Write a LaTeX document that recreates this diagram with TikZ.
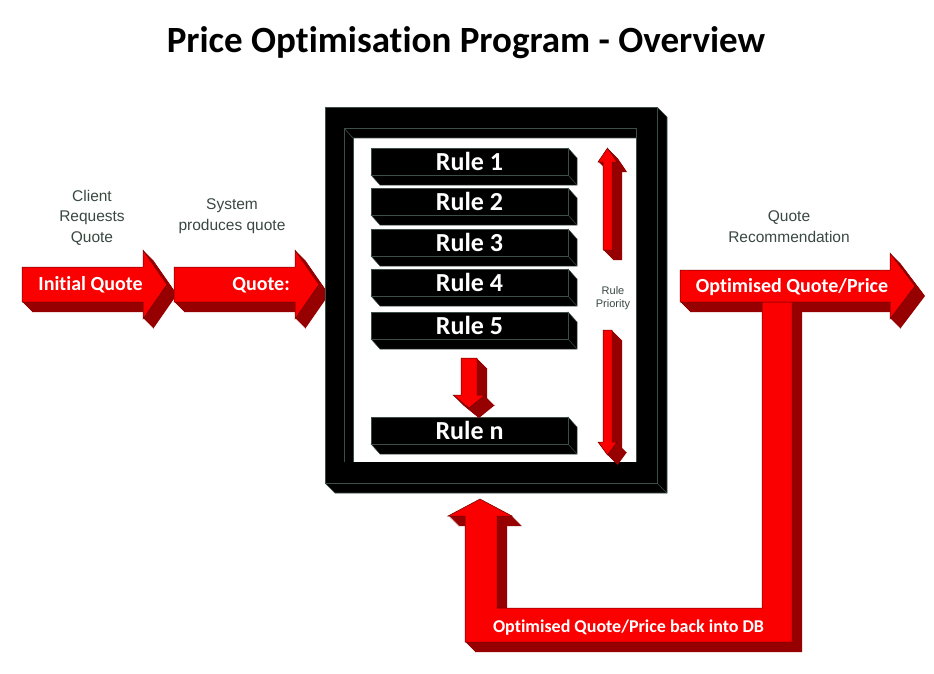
\documentclass[tikz,border=0pt]{standalone}
\usepackage{fontspec}
\setmainfont{Liberation Sans}
\newfontfamily\calib[Ligatures=NoCommon]{Carlito}
\definecolor{rfront}{RGB}{250,0,0}
\definecolor{rside}{RGB}{150,0,0}
\definecolor{redge}{RGB}{105,0,0}
\definecolor{gedge}{RGB}{60,78,70}
\definecolor{lblc}{RGB}{58,72,66}
\newcommand{\redblock}[1]{%
  \foreach \k in {10,9,...,1}{\fill[rside,shift={(\k,\k)}] #1;}
  \fill[rfront,draw=redge,line width=0.5pt] #1;}
\begin{document}
\begin{tikzpicture}[x=1pt,y=-1pt,
  lbl/.style={font=\fontsize{15.5}{20.5}\selectfont, text=lblc, align=center, inner sep=0pt},
  wlbl/.style={text=white, inner sep=0pt, anchor=base},
  rulebox/.style={fill=black, draw=gedge, line width=0.5pt, minimum width=197pt,
    minimum height=27pt, inner sep=0pt, text=white,
    font=\calib\bfseries\fontsize{26}{26}\selectfont}]
\fill[white] (0,0) rectangle (934,673);
\useasboundingbox (0,0) rectangle (934,673);

% title
\node[font=\calib\bfseries\fontsize{37}{37}\selectfont, anchor=base, inner sep=0pt] (title) at (466,52) {Price Optimisation Program - Overview};

% grey labels
\node[lbl, anchor=base] (client) at (92,242) {Client\\Requests\\Quote};
\node[lbl, anchor=base] (system) at (232,230) {System\\produces quote};
\node[lbl, anchor=base] (recom) at (789,242) {Quote\\Recommendation};

% input arrows
\redblock{(22,267)--(143,267)--(143,250)--(167,284.5)--(143,319)--(143,302)--(22,302)--cycle}
\node[wlbl, font=\calib\bfseries\fontsize{20}{20}\selectfont] (init) at (90.5,290) {Initial Quote};
\redblock{(174,267)--(295,267)--(295,250)--(319,284.5)--(295,319)--(295,302)--(174,302)--cycle}
\node[wlbl, anchor=base east, font=\calib\bfseries\fontsize{20}{20}\selectfont] (quote) at (290,290) {Quote:};

% black frame
\fill[black] (325,107)--(657,107)--(667,117)--(667,493)--(335,493)--(325,483)--cycle;
\fill[white] (353,138) rectangle (636,462);
\begin{scope}[gedge, line width=0.6pt]
  \draw (325,107) rectangle (657,483);
  \draw (657,107)--(667,117)--(667,493)--(335,493)--(325,483);
  \draw (657,483)--(667,493);
  \draw (344,462)--(344,128)--(636,128)--(636,462);
  \draw (344,128)--(353,138)--(636,138);
  \draw (353,138)--(353,462);
\end{scope}

% rule bars
\foreach \nm/\yt/\tx in {r1/148/Rule 1, r2/188/Rule 2, r3/229/Rule 3, r4/269/Rule 4, r5/312/Rule 5, rn/417/Rule n}{
  \fill[black,draw=gedge,line width=0.5pt] (568,\yt)--(577,\yt+10)--(577,\yt+37)--(380,\yt+37)--(371,\yt+27)--(568,\yt+27)--cycle;
  \draw[gedge,line width=0.5pt] (568,\yt+27)--(577,\yt+37);
  \node[rulebox] (\nm) at (469.5,\yt+13.5) {\tx};
}

% arrow from Rule 5 to Rule n
\redblock{(461,358)--(477,358)--(477,395)--(485,395)--(469,408)--(453,395)--(461,395)--cycle}

% rule priority arrows
\redblock{(603,250)--(603,162)--(598,162)--(607.5,148)--(617,162)--(612,162)--(612,250)--cycle}
\redblock{(603,330)--(612,330)--(612,442)--(617,442)--(607.5,455)--(598,442)--(603,442)--cycle}
\node[lbl, font=\fontsize{11}{13}\selectfont, anchor=base] (prio) at (613,307) {Rule\\Priority};

% output arrow
\redblock{(680,270)--(890,270)--(890,253)--(915,286)--(890,319)--(890,302)--(680,302)--cycle}
\node[wlbl, font=\calib\bfseries\fontsize{20}{20}\selectfont] (opt) at (792,292) {Optimised Quote/Price};

% feedback loop
\redblock{(762,302)--(792,302)--(792,642)--(465,642)--(465,516)--(448,516)--(480,499)--(512,516)--(497,516)--(497,608)--(762,608)--cycle}
\node[wlbl, font=\calib\bfseries\fontsize{18}{18}\selectfont] (back) at (628.5,632) {Optimised Quote/Price back into DB};
\end{tikzpicture}
\end{document}
